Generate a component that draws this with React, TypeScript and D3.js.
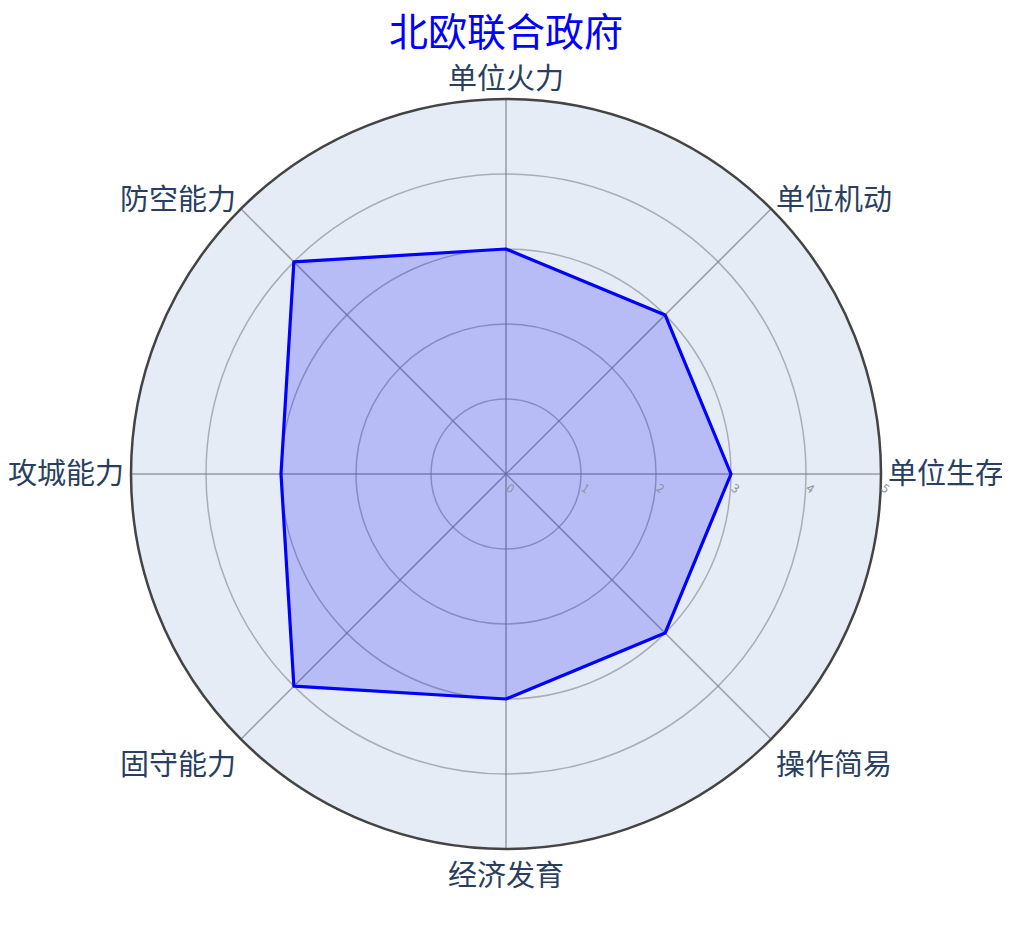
import * as d3 from "d3";
import {useEffect, useRef} from "react";

const title = "北欧联合政府";
const categories = ["单位火力", "单位机动", "单位生存", "操作简易", "经济发育", "固守能力", "攻城能力", "防空能力"];
const values = [3, 3, 3, 3, 3, 4, 3, 4];
const radialTicks = [0, 1, 2, 3, 4, 5];

const App = () => {
	const svgRef = useRef<SVGSVGElement>(null);

	useEffect(() => {
		const width = 1010;
		const height = 929;
		const cx = 506;
		const cy = 474;
		const outerR = 375;
		const font = "'Noto Sans CJK SC', 'Open Sans', sans-serif";

		const svg = d3.select(svgRef.current)
			.attr("width", width)
			.attr("height", height)
			.attr("viewBox", [0, 0, width, height]);
		svg.selectAll("*").remove();

		const r = d3.scaleLinear().domain([0, 5]).range([0, outerR]);
		// clockwise from top
		const angle = d3.scalePoint<string>()
			.domain(categories)
			.range([0, 2 * Math.PI - (2 * Math.PI) / categories.length]);

		const g = svg.append("g").attr("transform", `translate(${cx},${cy})`);

		g.append("circle").attr("r", outerR).attr("fill", "#e5ecf6");

		// grid circles
		g.selectAll(".grid")
			.data(radialTicks.slice(1, -1))
			.join("circle")
			.attr("r", (d) => r(d))
			.attr("fill", "none")
			.attr("stroke", "#8e949c")
			.attr("stroke-opacity", 0.7)
			.attr("stroke-width", 1.5);

		// spokes
		g.selectAll(".spoke")
			.data(categories)
			.join("line")
			.attr("x2", (d) => outerR * Math.sin(angle(d)!))
			.attr("y2", (d) => -outerR * Math.cos(angle(d)!))
			.attr("stroke", "#7c8086")
			.attr("stroke-opacity", 0.75)
			.attr("stroke-width", 1.5);

		// data polygon
		const line = d3.lineRadial<number>()
			.angle((_, i) => angle(categories[i])!)
			.radius((d) => r(d))
			.curve(d3.curveLinearClosed);

		g.append("path")
			.attr("d", line(values))
			.attr("fill", "rgba(0,0,255,0.2)")
			.attr("stroke", "#0000ff")
			.attr("stroke-width", 3.2)
			.attr("stroke-linejoin", "round");

		// outer border
		g.append("circle")
			.attr("r", outerR)
			.attr("fill", "none")
			.attr("stroke", "#444")
			.attr("stroke-width", 2.5);

		// radial tick labels
		g.selectAll(".rtick")
			.data(radialTicks)
			.join("text")
			.attr("transform", (d) => `translate(${r(d) + 2},${18}) rotate(35)`)
			.attr("text-anchor", "middle")
			.attr("font-family", font)
			.attr("font-size", 12)
			.attr("fill", "#8e949c")
			.text((d) => d);

		// angular labels
		const labelR = outerR + 7;
		g.selectAll(".alabel")
			.data(categories)
			.join("text")
			.attr("x", (d) => labelR * Math.sin(angle(d)!))
			.attr("y", (d) => -labelR * Math.cos(angle(d)!))
			.attr("text-anchor", (d) => {
				const s = Math.sin(angle(d)!);
				return Math.abs(s) < 0.01 ? "middle" : s > 0 ? "start" : "end";
			})
			.attr("dy", (d) => {
				const c = Math.cos(angle(d)!);
				return Math.abs(c) < 0.01 ? "0.35em" : c > 0.9 ? "-0.1em" : c < -0.9 ? "1.05em" : c > 0 ? "0.2em" : "1.05em";
			})
			.attr("font-family", font)
			.attr("font-size", 29)
			.attr("fill", "#2a3f5f")
			.text((d) => d);

		svg.append("text")
			.attr("x", cx)
			.attr("y", 46)
			.attr("text-anchor", "middle")
			.attr("font-family", font)
			.attr("font-size", 39)
			.attr("fill", "#0000ff")
			.text(title);
	}, []);

	return (
		<div style={{width: "100%", display: "flex", justifyContent: "center"}}>
			<svg ref={svgRef} style={{display: "block", margin: "-8px"}}></svg>
		</div>
	);
};

export default App;
